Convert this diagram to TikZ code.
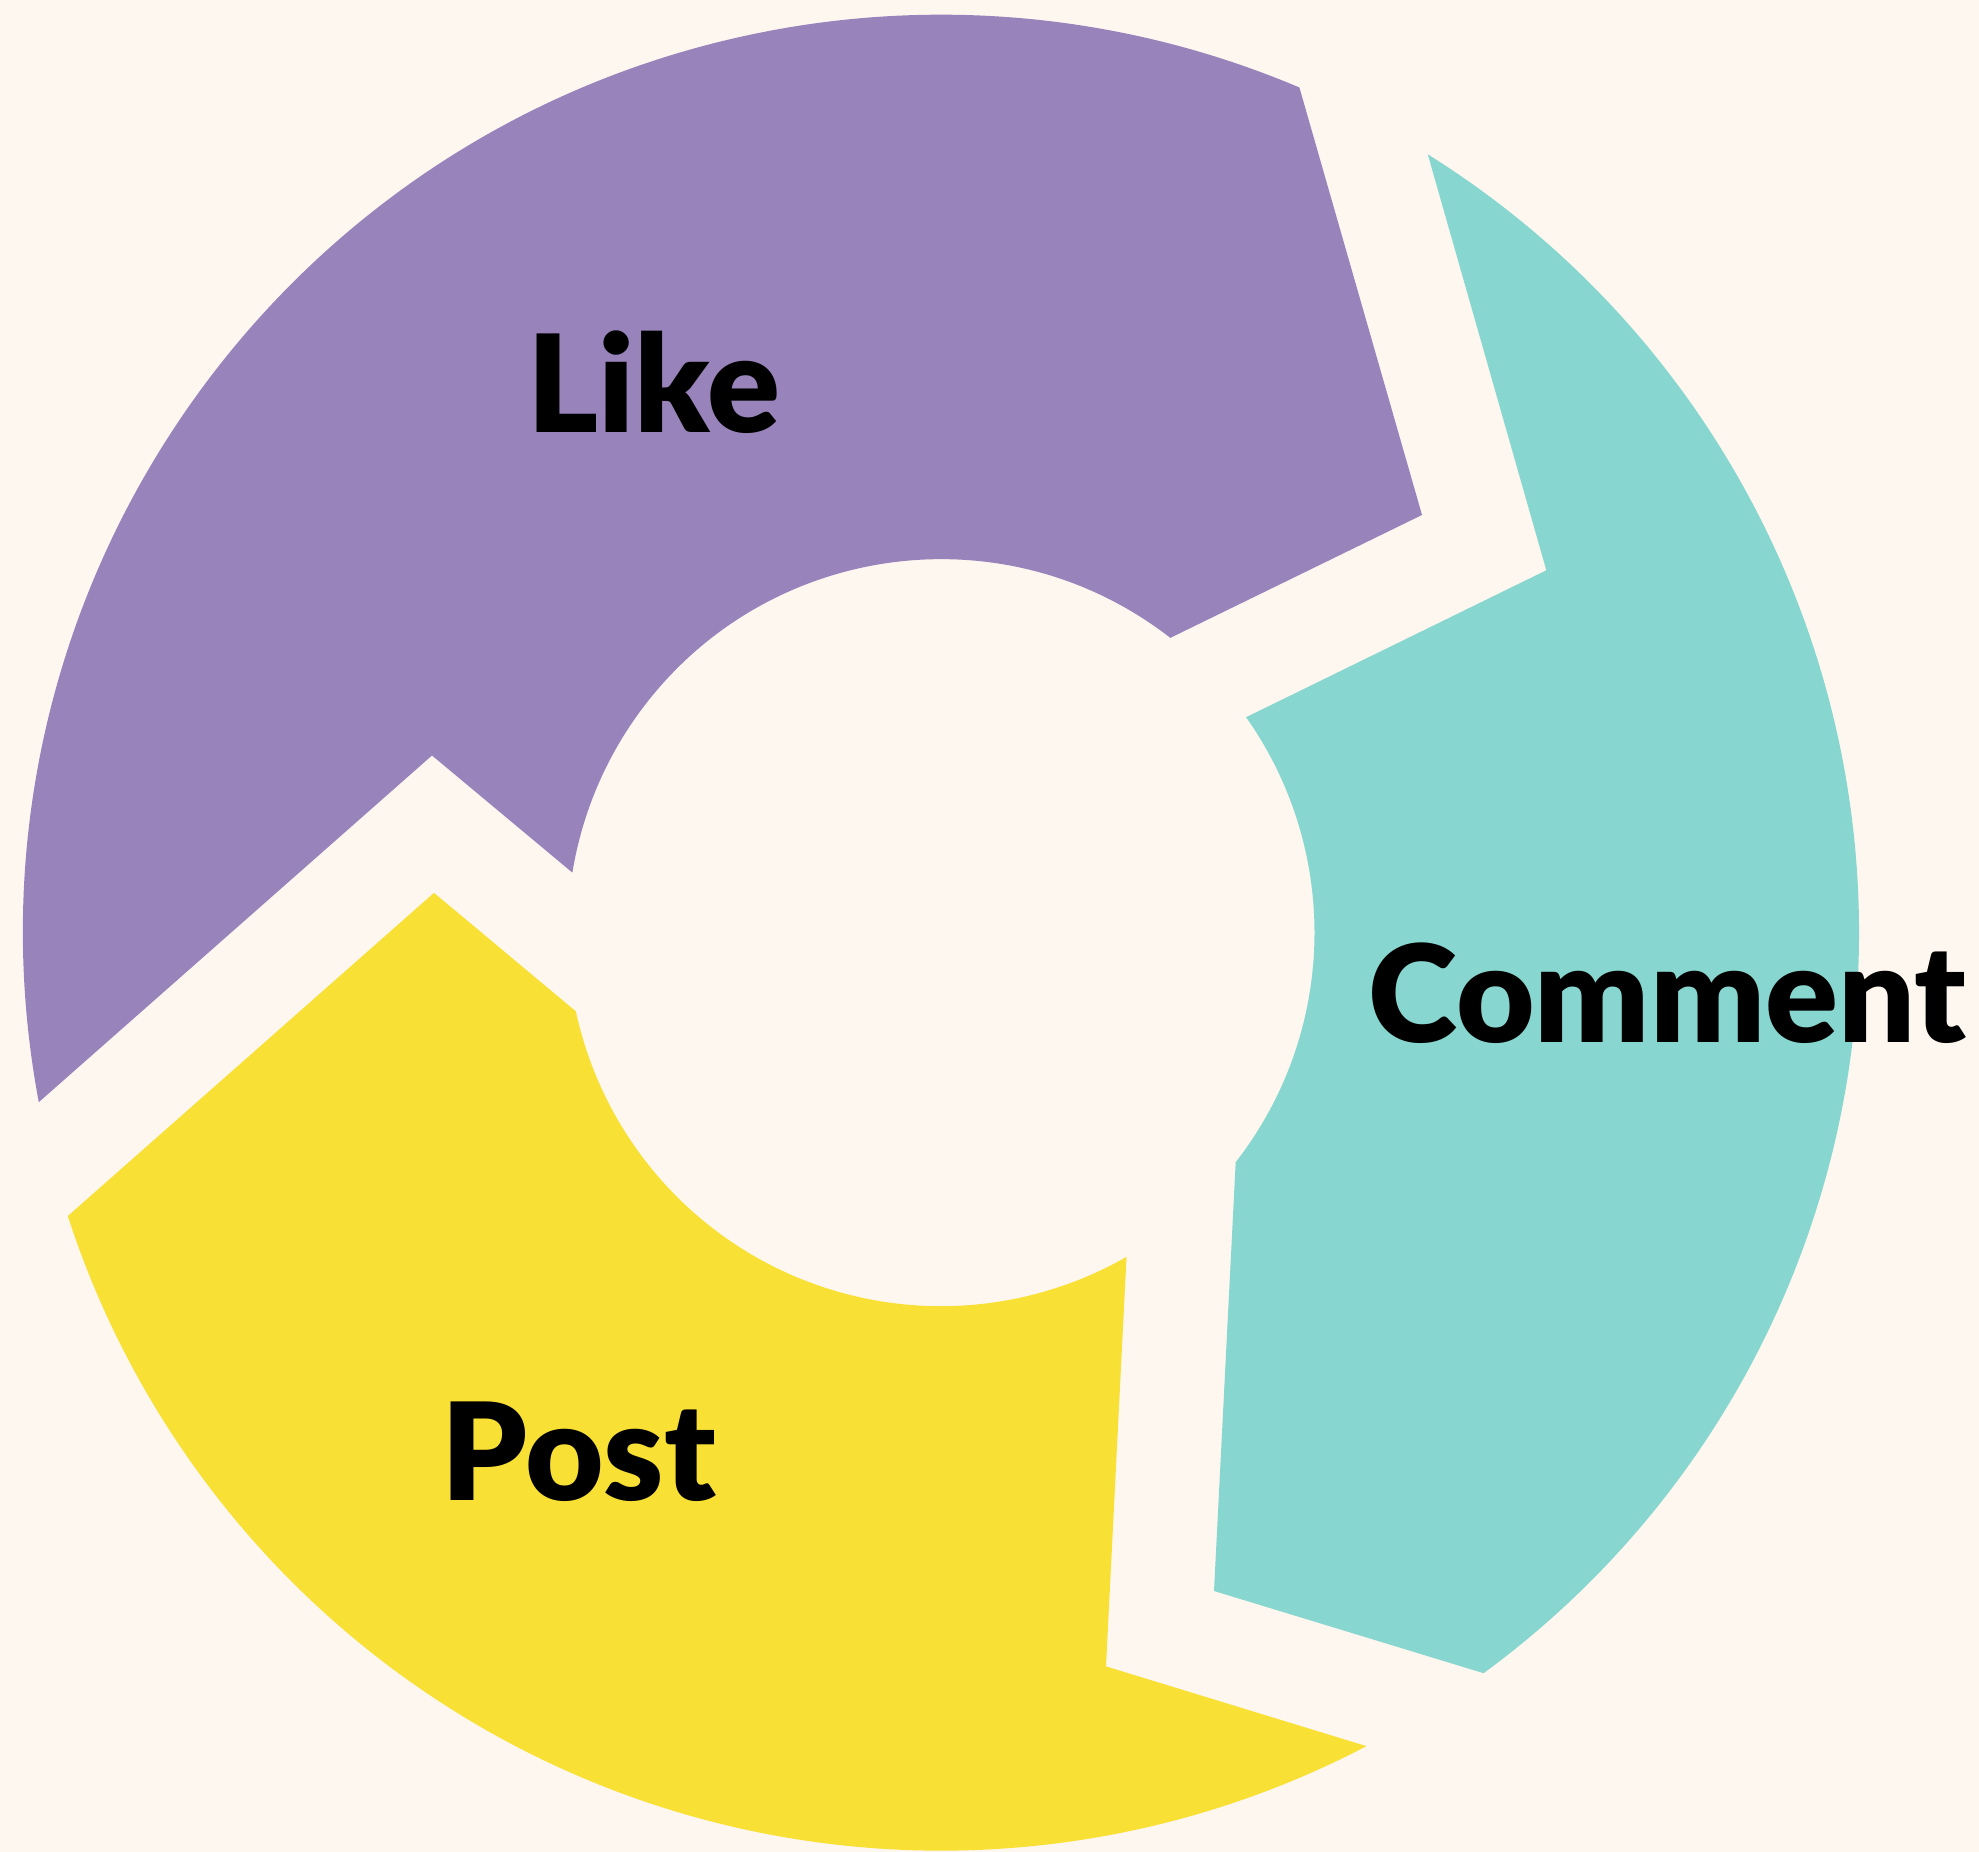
\documentclass[tikz,border=0pt]{standalone}
\usepackage{fontspec}
\setmainfont{Lato}[BoldFont={Lato Black}]
\usetikzlibrary{calc}
\definecolor{bg}{HTML}{FEF7F0}
\definecolor{likecol}{HTML}{9883BA}
\definecolor{commentcol}{HTML}{87D6CF}
\definecolor{postcol}{HTML}{F9E034}
\begin{document}
\begin{tikzpicture}[x=0.01cm,y=0.01cm,
  cyclelabel/.style={font=\fontsize{38.5}{40}\selectfont\bfseries, text=black, inner sep=0pt, anchor=base west}]
\fill[bg] (0,0) rectangle (1979,1852);
\useasboundingbox (0,0) rectangle (1979,1852);
\coordinate (C) at (941,919.3);
\def\Ro{9.175cm}
\def\Ri{3.733cm}
% Like
\fill[likecol] ($(C)+(190.64:\Ro)$) arc[start angle=190.64, end angle=67.02, radius=\Ro]
  -- (1422,1337) -- ($(C)+(52.12:\Ri)$) arc[start angle=52.12, end angle=170.74, radius=\Ri]
  -- (432,1096.5) -- cycle;
% Comment
\fill[commentcol] ($(C)+(57.98:\Ro)$) arc[start angle=57.98, end angle=-53.77, radius=\Ro]
  -- (1214,261) -- ($(C)+(-37.91:\Ri)$) arc[start angle=-37.91, end angle=35.23, radius=\Ri]
  -- (1546.3,1281.7) -- cycle;
% Post
\fill[postcol] ($(C)+(-62.39:\Ro)$) arc[start angle=-62.39, end angle=-162.02, radius=\Ro]
  -- (434,959.1) -- ($(C)+(192.16:\Ri)$) arc[start angle=192.16, end angle=299.78, radius=\Ri]
  -- (1106,185.6) -- cycle;
% Labels
\node[cyclelabel] (like) at (527,1419) {Like};
\node[cyclelabel] (comment) at (1368,809.5) {Comment};
\node[cyclelabel] (post) at (441,351.4) {Post};
\end{tikzpicture}
\end{document}
